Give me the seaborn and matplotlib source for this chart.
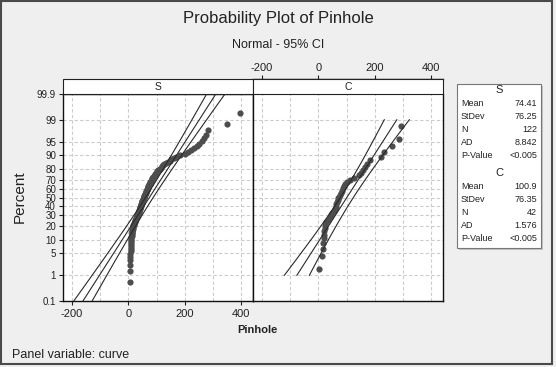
from statistics import NormalDist
import numpy as np
import pandas as pd
import matplotlib
matplotlib.use("Agg")
import matplotlib.pyplot as plt
from matplotlib.patches import Rectangle
from matplotlib.ticker import MultipleLocator
import seaborn as sns

# Pinhole values (sorted), one list per panel
pinhole_s = [5, 6, 6, 7, 7, 7, 8, 8, 8, 9,
             9, 9, 10, 10, 10, 11, 11, 12, 12, 13,
             14, 15, 16, 17, 18, 19, 20, 21, 23, 24,
             25, 27, 28, 29, 30, 31, 32, 33, 34, 35,
             36, 37, 38, 39, 40, 41, 41, 42, 43, 44,
             45, 46, 47, 47, 48, 49, 50, 51, 52, 53,
             54, 55, 56, 57, 58, 59, 60, 61, 62, 63,
             64, 65, 66, 67, 68, 69, 70, 71, 72, 74,
             75, 76, 77, 79, 80, 82, 83, 85, 87, 89,
             91, 93, 95, 97, 100, 102, 105, 108, 111, 114,
             118, 122, 127, 133, 139, 146, 152, 160, 170, 182,
             200, 210, 222, 232, 242, 252, 260, 268, 276, 284, 351, 396]
pinhole_c = [3, 14, 17, 18, 19, 20, 21, 22, 24, 27,
             33, 40, 45, 50, 55, 58, 61, 64, 66, 68,
             70, 72, 75, 79, 83, 87, 90, 94, 102, 112,
             128, 143, 150, 157, 165, 172, 182, 221, 232, 262,
             286, 294]

curves = ["S", "C"]
mean_vals = [74.41, 100.9]
stdev_vals = [76.25, 76.35]
ad_vals = [8.842, 1.576]
p_vals = ["<0.005", "<0.005"]
pct_ticks = [0.1, 1, 5, 10, 20, 30, 40, 50, 60, 70, 80, 90, 95, 99, 99.9]
x_ticks = [-200, 0, 200, 400]

W, H = 556, 367
nd = NormalDist()


def median_ranks(n):
    # Minitab plotting positions
    return [nd.inv_cdf((i - 0.3) / (n + 0.4)) for i in range(1, n + 1)]


rows = []
for curve, vals in zip(curves, [pinhole_s, pinhole_c]):
    for v, z in zip(vals, median_ranks(len(vals))):
        rows.append({"curve": curve, "Pinhole": v, "z": z})
df = pd.DataFrame(rows)

sns.set_style("white")
plt.rcParams['font.family'] = ['Liberation Sans', 'DejaVu Sans']
plt.rcParams['axes.unicode_minus'] = False

g = sns.FacetGrid(df, col="curve", col_order=curves, sharex=True, sharey=True)
g.map_dataframe(sns.scatterplot, x="Pinhole", y="z", color="#4d4d4d", s=20, linewidth=0, zorder=2)
fig = g.figure
fig.set_size_inches(W / 100, H / 100)
fig.set_facecolor("#efefef")
fig.subplots_adjust(left=63 / W, right=443 / W, bottom=1 - 301 / H, top=1 - 94 / H, wspace=0)
g.set_titles("")
g.set_axis_labels("", "")

zlo, zhi = nd.inv_cdf(0.001), nd.inv_cdf(0.999)
strip_h = 15 / 207

for ax, curve, mu, sd, vals in zip(g.axes.flat, curves, mean_vals, stdev_vals, [pinhole_s, pinhole_c]):
    ax.set_facecolor("white")
    ax.set_xlim(-232, 442)
    ax.set_ylim(zlo, zhi)
    ax.set_xticks(x_ticks)
    ax.xaxis.set_minor_locator(MultipleLocator(100))
    ax.set_yticks([nd.inv_cdf(p / 100) for p in pct_ticks])
    ax.set_yticklabels([f"{p:g}" for p in pct_ticks])
    ax.grid(True, which="both", color="#cccccc", lw=0.8, ls=(0, (3, 2)))
    ax.tick_params(which="minor", length=0)
    for s in ax.spines.values():
        s.set_visible(True)
        s.set_color("#111111")
        s.set_linewidth(1)

    # fitted line and 95% CI
    n = len(vals)
    lo, hi = (0.001, 0.999) if curve == "S" else (0.01, 0.99)
    zz = np.linspace(nd.inv_cdf(lo), nd.inv_cdf(hi), 60)
    fit = mu + sd * zz
    half = 1.96 * sd * np.sqrt((1 + zz ** 2 / 2) / n)
    for xs in (fit - half, fit, fit + half):
        ax.plot(xs, zz, color="#2a2a2a", lw=0.8, zorder=3)

    # panel strip
    ax.add_patch(Rectangle((0, 1), 1, strip_h, transform=ax.transAxes, clip_on=False,
                           fc="white", ec="#222222", lw=0.8, zorder=5))
    ax.text(0.5, 1 + strip_h / 2, curve, transform=ax.transAxes, ha="center", va="center",
            fontsize=7.5, color="#222222", zorder=6)

s_ax, c_ax = g.axes.flat
s_ax.tick_params(axis="x", which="major", bottom=True, labelbottom=True, top=False, labeltop=False,
                 length=3, width=0.8, labelsize=8, pad=3, colors="#222222")
s_ax.tick_params(axis="y", left=True, labelleft=True, length=3, width=0.8, labelsize=7, pad=2,
                 colors="#222222")
# top axis of the right panel sits above the strip (offset is in points)
c_ax.spines["top"].set_position(("outward", 15 * 72 / 100))
c_ax.tick_params(axis="x", which="major", bottom=False, labelbottom=False, top=True, labeltop=True,
                 length=3, width=0.8, labelsize=8, pad=1, colors="#222222")
c_ax.tick_params(axis="y", left=False, labelleft=False)

# titles and labels
fig.text(0.5, 1 - 19 / H, "Probability Plot of Pinhole", ha="center", va="center", fontsize=12, color="#222222")
fig.text(0.5, 1 - 45 / H, "Normal - 95% CI", ha="center", va="center", fontsize=9, color="#222222")
fig.text(20 / W, 1 - 197 / H, "Percent", rotation=90, ha="center", va="center", fontsize=11, color="#222222")
fig.text(257 / W, 1 - 330 / H, "Pinhole", ha="center", va="center", fontsize=8, fontweight="bold", color="#222222")
fig.text(12 / W, 1 - 355 / H, "Panel variable: curve", ha="left", va="center", fontsize=9, color="#222222")

# statistics box
bx0, bx1, by0, by1 = 457, 541, 84, 248
fig.patches.append(Rectangle((bx0 / W + 2 / W, 1 - (by1 + 2) / H), (bx1 - bx0) / W, (by1 - by0) / H,
                             transform=fig.transFigure, fc="#c4c4c4", ec="none", zorder=1))
fig.patches.append(Rectangle((bx0 / W, 1 - by1 / H), (bx1 - bx0) / W, (by1 - by0) / H,
                             transform=fig.transFigure, fc="white", ec="#777777", lw=0.8, zorder=2))
for k, (curve, mu, sd, vals, ad, pv) in enumerate(zip(curves, mean_vals, stdev_vals,
                                                      [pinhole_s, pinhole_c], ad_vals, p_vals)):
    top = 90 + k * 83
    fig.text(499 / W, 1 - top / H, curve, ha="center", va="center", fontsize=8, color="#222222")
    entries = [("Mean", f"{mu:.4g}"), ("StDev", f"{sd:.4g}"), ("N", str(len(vals))),
               ("AD", f"{ad:.4g}"), ("P-Value", pv)]
    for j, (lab, val) in enumerate(entries):
        yy = 1 - (top + 13 + j * 13.1) / H
        fig.text(461 / W, yy, lab, ha="left", va="center", fontsize=6.5, color="#222222")
        fig.text(537 / W, yy, val, ha="right", va="center", fontsize=6.5, color="#222222")

# outer frame
fig.patches.append(Rectangle((1 / W, 1 - 364 / H), 551 / W, 363 / H, transform=fig.transFigure,
                             fc="none", ec="#4a4a4a", lw=1.5, zorder=3))

fig.savefig("out.png", dpi=100, facecolor=fig.get_facecolor())
